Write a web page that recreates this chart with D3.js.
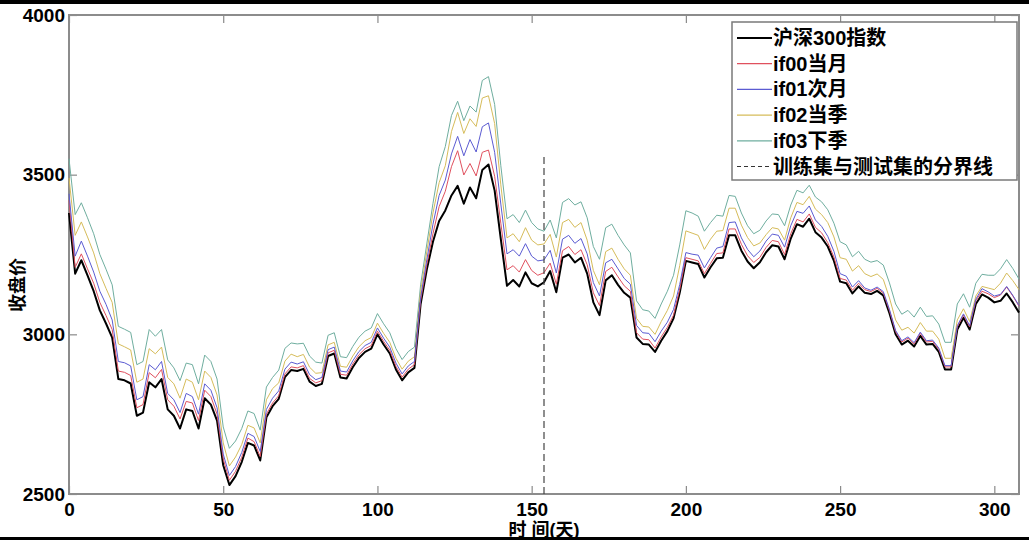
<!DOCTYPE html>
<html>
<head>
<meta charset="utf-8">
<script src="https://cdnjs.cloudflare.com/ajax/libs/d3/7.8.5/d3.min.js"></script>
<style>
body { margin: 0; background: #fff; }
svg { display: block; font-family: "Liberation Sans", Arial, "Noto Sans CJK SC", sans-serif; }
.axis text { font-size: 19px; font-weight: bold; fill: #000; }
.axis line { stroke: #8a8a8a; stroke-width: 1.2; }
.axis path { display: none; }
</style>
</head>
<body>
<svg></svg>
<script>
'use strict';

// days sampled every 2 trading days
var days = d3.range(0, 309, 2);

var hs300 = [
  3380,3190,3232,3185,3135,3075,3034,2990,2860,2856,
  2846,2745,2755,2850,2834,2860,2765,2745,2705,2765,
  2760,2705,2800,2780,2730,2590,2528,2556,2600,2660,
  2652,2605,2740,2775,2798,2866,2888,2885,2892,2852,
  2838,2845,2932,2940,2865,2862,2897,2926,2945,2955,
  3000,2968,2940,2890,2856,2881,2895,3095,3203,3290,
  3355,3388,3435,3465,3409,3460,3426,3515,3532,3450,
  3298,3152,3170,3150,3194,3160,3150,3163,3198,3132,
  3240,3250,3225,3240,3190,3100,3060,3169,3185,3155,
  3130,3115,2990,2970,2968,2945,2980,3010,3050,3130,
  3230,3225,3220,3178,3210,3238,3240,3310,3310,3262,
  3228,3207,3226,3257,3279,3275,3235,3300,3345,3337,
  3362,3320,3303,3275,3230,3165,3160,3128,3150,3130,
  3126,3136,3122,3066,3000,2968,2980,2962,2995,2968,
  2970,2945,2890,2890,3015,3052,3015,3095,3125,3115,
  3100,3105,3128,3100,3068
];

var if00 = [
  3420,3210,3252,3205,3160,3100,3059,3015,2885,2881,
  2871,2770,2780,2880,2864,2890,2795,2775,2735,2790,
  2785,2730,2825,2805,2750,2610,2543,2571,2615,2675,
  2664,2617,2750,2785,2808,2876,2898,2895,2902,2862,
  2848,2855,2942,2950,2875,2872,2907,2936,2955,2965,
  3010,2978,2950,2900,2866,2891,2905,3105,3218,3315,
  3400,3448,3525,3575,3499,3535,3496,3570,3577,3495,
  3348,3202,3215,3195,3234,3200,3185,3193,3223,3157,
  3262,3275,3250,3265,3218,3130,3090,3197,3210,3180,
  3152,3135,3005,2985,2983,2957,2992,3022,3060,3140,
  3240,3235,3230,3190,3222,3253,3255,3330,3330,3282,
  3246,3225,3241,3272,3294,3290,3250,3315,3360,3352,
  3377,3335,3318,3287,3242,3175,3170,3138,3160,3140,
  3134,3144,3130,3074,3008,2976,2988,2970,3003,2976,
  2978,2953,2898,2898,3023,3060,3023,3105,3135,3127,
  3115,3123,3148,3120,3088
];

var if01 = [
  3440,3245,3292,3245,3195,3135,3094,3045,2915,2911,
  2901,2795,2805,2905,2889,2915,2815,2795,2755,2815,
  2805,2750,2845,2825,2770,2625,2558,2586,2630,2690,
  2680,2633,2765,2800,2823,2891,2913,2907,2914,2874,
  2858,2865,2952,2960,2885,2882,2917,2946,2965,2975,
  3020,2988,2960,2910,2876,2901,2915,3115,3233,3345,
  3435,3483,3565,3620,3559,3610,3571,3650,3662,3570,
  3408,3252,3265,3245,3284,3245,3230,3233,3263,3192,
  3298,3310,3285,3300,3252,3162,3120,3224,3235,3205,
  3175,3157,3028,3005,3003,2977,3010,3038,3078,3156,
  3256,3251,3248,3208,3240,3270,3275,3350,3352,3302,
  3266,3243,3261,3292,3314,3310,3273,3340,3385,3379,
  3402,3358,3338,3307,3260,3190,3182,3148,3168,3145,
  3138,3148,3134,3078,3012,2980,2992,2974,3007,2980,
  2982,2957,2902,2902,3027,3064,3027,3110,3143,3133,
  3120,3125,3150,3122,3090
];

var if02 = [
  3490,3310,3352,3305,3255,3190,3144,3100,2970,2961,
  2951,2850,2860,2955,2939,2960,2865,2845,2800,2860,
  2850,2795,2885,2865,2810,2660,2588,2616,2655,2715,
  2707,2660,2795,2830,2848,2916,2938,2930,2937,2897,
  2878,2880,2967,2975,2900,2897,2932,2961,2980,2990,
  3035,3003,2975,2925,2891,2916,2930,3135,3258,3380,
  3475,3528,3635,3695,3629,3675,3651,3740,3747,3660,
  3468,3302,3315,3290,3334,3295,3280,3283,3313,3242,
  3350,3360,3335,3350,3295,3200,3155,3259,3270,3235,
  3205,3185,3050,3025,3023,3000,3040,3075,3120,3215,
  3324,3317,3310,3266,3298,3323,3325,3395,3395,3342,
  3303,3277,3286,3312,3334,3330,3295,3365,3413,3406,
  3432,3392,3375,3350,3305,3240,3235,3198,3215,3190,
  3181,3189,3172,3114,3045,3013,3022,3004,3037,3010,
  3010,2985,2925,2925,3045,3080,3040,3120,3150,3145,
  3140,3160,3192,3168,3140
];

var if03 = [
  3550,3375,3412,3365,3315,3250,3204,3155,3025,3016,
  3006,2905,2915,3015,2994,3015,2920,2895,2855,2910,
  2905,2845,2935,2915,2860,2710,2643,2666,2705,2760,
  2752,2700,2835,2865,2888,2956,2973,2970,2972,2932,
  2913,2910,2997,3005,2930,2927,2962,2991,3010,3020,
  3065,3033,3005,2955,2921,2946,2960,3155,3283,3410,
  3525,3588,3685,3730,3669,3715,3696,3795,3807,3720,
  3528,3362,3375,3350,3389,3350,3330,3323,3358,3302,
  3413,3425,3405,3415,3365,3275,3235,3334,3345,3310,
  3280,3255,3105,3077,3073,3050,3095,3135,3185,3280,
  3387,3380,3370,3323,3350,3373,3370,3435,3432,3380,
  3340,3315,3326,3355,3377,3375,3340,3405,3451,3443,
  3467,3430,3415,3390,3348,3290,3280,3243,3260,3235,
  3226,3231,3217,3161,3095,3063,3075,3054,3085,3056,
  3058,3032,2975,2975,3095,3127,3085,3160,3188,3185,
  3185,3205,3234,3206,3173
];

var seriesNames = ['沪深300指数', 'if00当月', 'if01次月', 'if02当季', 'if03下季'];
var splitLabel = '训练集与测试集的分界线';
var splitDay = 154;
var splitTop = 3555;

var xTicks = [0, 50, 100, 150, 200, 250, 300];
var yTicks = [2500, 3000, 3500, 4000];

var canvasWidth = 1029,
  canvasHeight = 540,
  margin = { top: 15, right: 10, bottom: 46, left: 69 },
  width = 950,
  height = 479;

var svg = d3.select('svg')
  .attr('width', canvasWidth)
  .attr('height', canvasHeight);

var xScale = d3.scaleLinear().domain([0, 308]).range([0, width]);
var yScale = d3.scaleLinear().domain([2500, 4000]).range([height, 0]);

var graphArea = svg.append('g')
  .attr('transform', 'translate(' + margin.left + ',' + margin.top + ')');

var colors = ['#000000', '#e0505e', '#5b5bd2', '#d6bc5a', '#6fae9f'];
var widths = [2, 1, 1, 1, 1];
var allSeries = [hs300, if00, if01, if02, if03];

// axes, ticks pointing inwards
graphArea.append('g')
  .attr('class', 'axis')
  .attr('transform', 'translate(0,' + height + ')')
  .call(d3.axisBottom(xScale).tickValues(xTicks).tickSizeInner(-8).tickSizeOuter(0).tickPadding(9));

graphArea.append('g')
  .attr('class', 'axis')
  .call(d3.axisTop(xScale).tickValues(xTicks).tickSizeInner(-8).tickSizeOuter(0).tickFormat(''));

graphArea.append('g')
  .attr('class', 'axis')
  .call(d3.axisLeft(yScale).tickValues(yTicks).tickFormat(d3.format('d'))
    .tickSizeInner(-8).tickSizeOuter(0).tickPadding(4));

graphArea.append('g')
  .attr('class', 'axis')
  .attr('transform', 'translate(' + width + ',0)')
  .call(d3.axisRight(yScale).tickValues(yTicks).tickSizeInner(-8).tickSizeOuter(0).tickFormat(''));

graphArea.append('rect')
  .attr('width', width)
  .attr('height', height)
  .attr('fill', 'none')
  .attr('stroke', '#8c8c8c')
  .attr('stroke-width', 2);

var line = function(values) {
  return d3.line()
    .x(function(d, i) { return xScale(days[i]); })
    .y(function(d) { return yScale(d); })(values);
};

// draw order: far contracts first, index and near months on top
[4, 3, 0, 1, 2].forEach(function(k) {
  graphArea.append('path')
    .attr('d', line(allSeries[k]))
    .attr('fill', 'none')
    .attr('stroke', colors[k])
    .attr('stroke-width', widths[k])
    .attr('stroke-linejoin', 'round');
});

graphArea.append('line')
  .attr('x1', xScale(splitDay)).attr('x2', xScale(splitDay))
  .attr('y1', yScale(2500)).attr('y2', yScale(splitTop))
  .attr('stroke', '#444')
  .attr('stroke-width', 1.2)
  .attr('stroke-dasharray', '7,4');

// legend
var legend = svg.append('g').attr('transform', 'translate(732,22)');
legend.append('rect')
  .attr('width', 285)
  .attr('height', 158)
  .attr('fill', '#fff')
  .attr('stroke', '#7a7a7a')
  .attr('stroke-width', 1.5);

var legendItems = seriesNames.map(function(n, i) {
  return { name: n, color: colors[i], width: widths[i] < 2 ? 1.2 : 2, dash: null };
});
legendItems.push({ name: splitLabel, color: '#333', width: 1.2, dash: '4,3' });

var rows = legend.selectAll('g.row')
  .data(legendItems)
  .enter().append('g')
  .attr('class', 'row')
  .attr('transform', function(d, i) { return 'translate(0,' + (16 + i * 25.7) + ')'; });

rows.append('line')
  .attr('x1', 5).attr('x2', 40)
  .attr('stroke', function(d) { return d.color; })
  .attr('stroke-width', function(d) { return d.width; })
  .attr('stroke-dasharray', function(d) { return d.dash; });

rows.append('text')
  .attr('x', 41)
  .attr('y', 7)
  .style('font-size', '20px')
  .style('font-weight', 'bold')
  .text(function(d) { return d.name; });

// axis titles
svg.append('text')
  .attr('x', margin.left + width / 2)
  .attr('y', 536)
  .attr('text-anchor', 'middle')
  .style('font-size', '18px')
  .style('font-weight', 'bold')
  .text('时 间(天)');

svg.append('text')
  .attr('transform', 'translate(24,285) rotate(-90)')
  .attr('text-anchor', 'middle')
  .style('font-size', '18px')
  .style('font-weight', 'bold')
  .text('收盘价');

// black bands of the scanned image
svg.append('rect').attr('x', 0).attr('y', 0).attr('width', canvasWidth).attr('height', 4).attr('fill', '#000');
svg.append('rect').attr('x', 0).attr('y', 537).attr('width', canvasWidth).attr('height', 3).attr('fill', '#000');
</script>
</body>
</html>
